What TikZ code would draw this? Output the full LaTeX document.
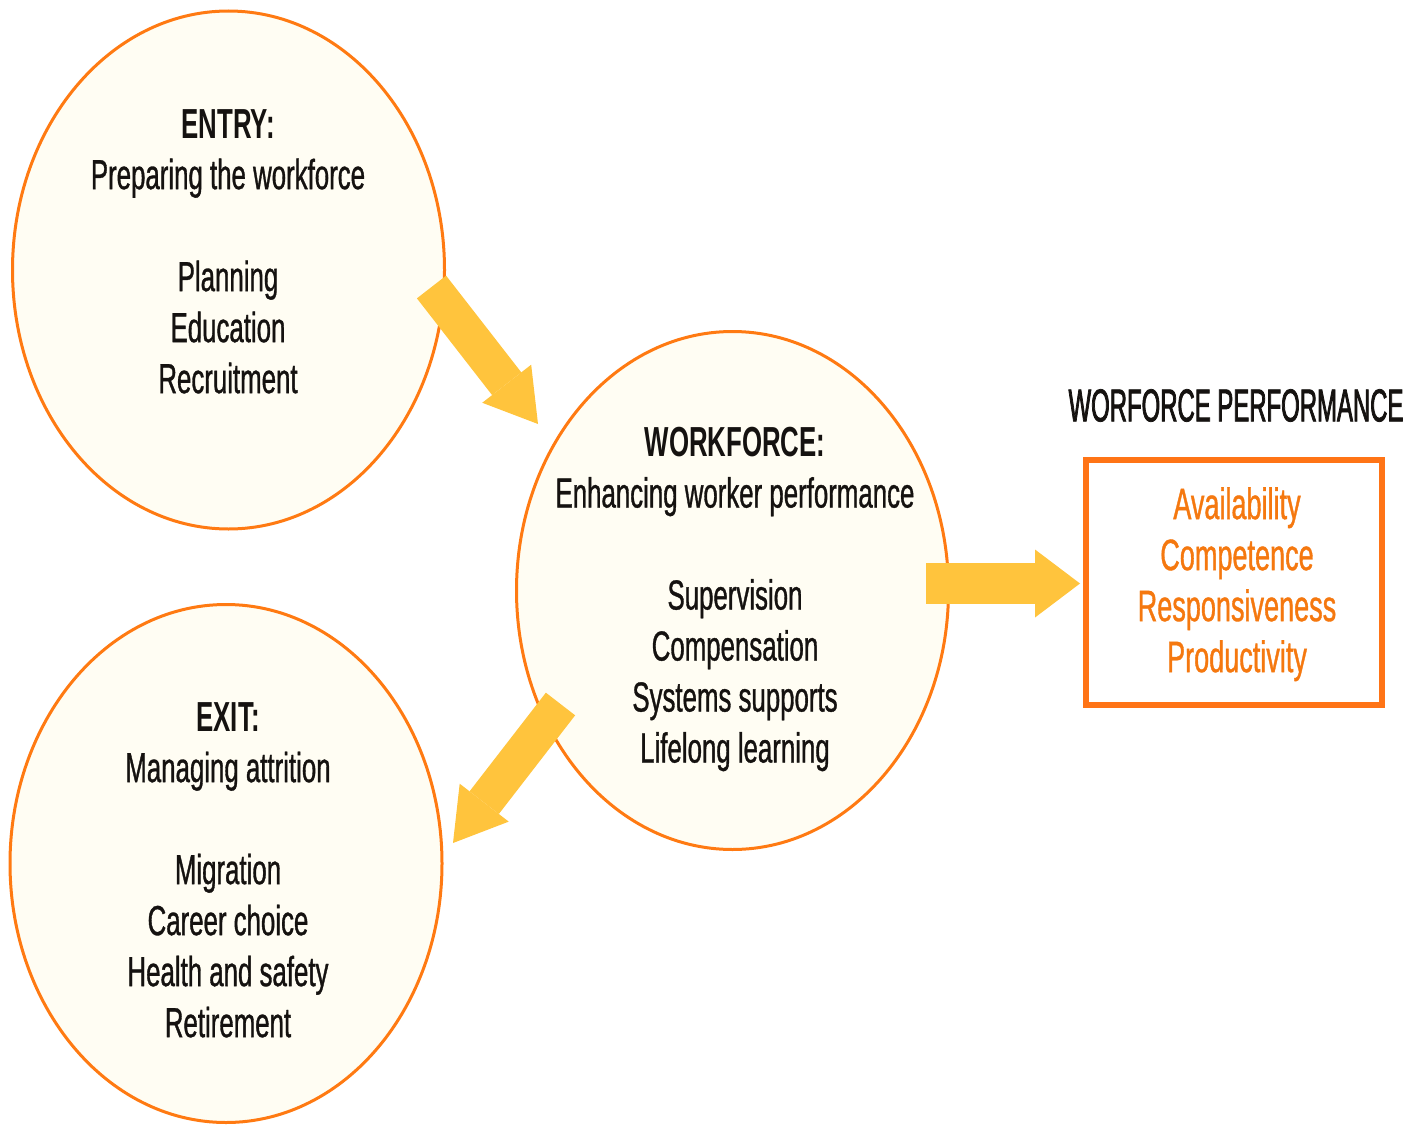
\documentclass[tikz,border=0pt]{standalone}
\usepackage{fontspec}
\setmainfont{Liberation Sans}[FakeStretch=0.615, FakeBold=0.8, BoldFeatures={FakeBold=0}]
\newfontfamily\headfont{Liberation Sans}[FakeStretch=0.52, FakeBold=1.6]
\usetikzlibrary{arrows.meta,shapes.geometric}
\definecolor{ringorange}{HTML}{FF7A12}
\definecolor{boxorange}{HTML}{FF7416}
\definecolor{txtorange}{HTML}{F5780F}
\definecolor{arrowyellow}{HTML}{FFC43D}
\definecolor{cream}{HTML}{FFFDF3}
\definecolor{ink}{HTML}{151210}
\begin{document}
\begin{tikzpicture}[x=1pt,y=-1pt,
  stage/.style={ellipse, draw=ringorange, line width=3pt, fill=cream,
    minimum width=432pt, minimum height=518pt, inner sep=0pt},
  stagetext/.style={anchor=north, inner sep=0pt, align=center, text=ink,
    font=\fontsize{42}{51}\selectfont},
  fat/.style={draw=arrowyellow, line width=37pt,
    -{Triangle[width=62pt,length=51pt,line width=0pt]}},
]
% canvas
\fill[white] (0,0) rectangle (1410,1126);
\useasboundingbox (0,0) rectangle (1410,1126);

% the three stages
\node[stage] (entry) at (228.5,270) {};
\node[stage] (workforce) at (732.5,590.5) {};
\node[stage] (exit) at (226,863.5) {};

% performance box and heading
\node[draw=boxorange, line width=6pt, minimum width=296pt, minimum height=245pt,
  inner sep=0pt] (perf) at (1234,582.5) {};
\node[anchor=north, inner sep=0pt, text=ink,
  font=\headfont\fontsize{46}{50}\selectfont] (perfhead) at (1236,389)
  {WORFORCE PERFORMANCE};

% flow arrows
\coordinate (a1s) at (431.5,287);
\coordinate (a1e) at (538,424);
\coordinate (a2s) at (926,583.5);
\coordinate (a2e) at (1080,583.5);
\coordinate (a3s) at (560.5,704);
\coordinate (a3e) at (453,843);
\draw[fat] (a1s) -- (a1e);
\draw[fat, line width=41pt, -{Triangle[width=68pt,length=45pt,line width=0pt]}] (a2s) -- (a2e);
\draw[fat] (a3s) -- (a3e);

% texts
\node[stagetext] (entrytext) at (228,109)
  {\textbf{ENTRY:}\\Preparing the workforce\\[51pt]Planning\\Education\\Recruitment};
\node[stagetext] (worktext) at (735,427)
  {\textbf{WORKFORCE:}\\Enhancing worker performance\\[51pt]Supervision\\Compensation\\Systems supports\\Lifelong learning};
\node[stagetext] (exittext) at (228,702)
  {\textbf{EXIT:}\\Managing attrition\\[51pt]Migration\\Career choice\\Health and safety\\Retirement};
\node[stagetext, text=txtorange, font=\fontsize{44}{51}\selectfont] (perftext) at (1237,487)
  {Availability\\Competence\\Responsiveness\\Productivity};
\end{tikzpicture}
\end{document}
